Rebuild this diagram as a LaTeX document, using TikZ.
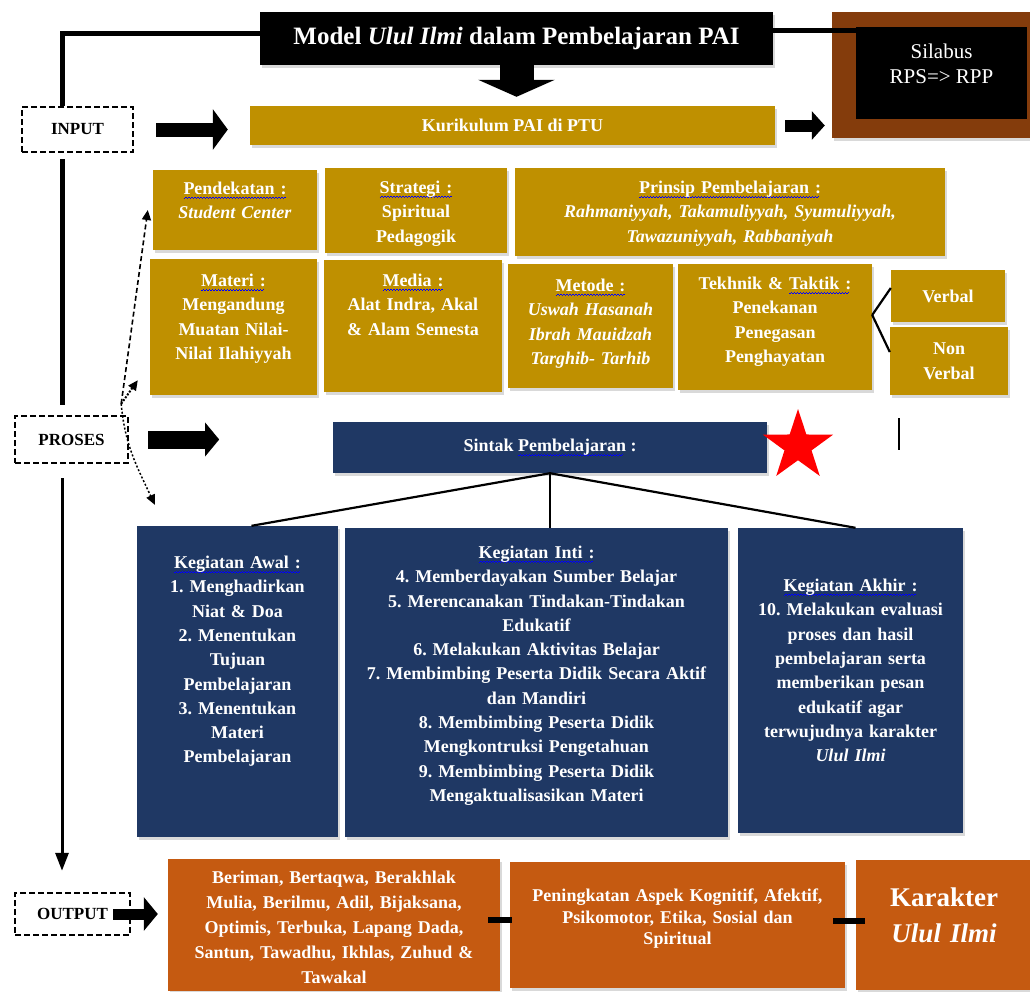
\documentclass[tikz,border=0pt]{standalone}
\usepackage{fontspec}
\setmainfont{Liberation Serif}
\usepackage{tikz}
\usetikzlibrary{positioning,arrows.meta,shapes.geometric,shadows}
\definecolor{cGold}{HTML}{BF9000}
\definecolor{cNavy}{HTML}{1F3864}
\definecolor{cOrng}{HTML}{C55A11}
\definecolor{cBrwn}{HTML}{843C0C}
\newsavebox{\sqbox}
\newcommand{\sqg}[1]{\sbox{\sqbox}{#1}\rlap{\raisebox{-4pt}{\textcolor{blue}{\hbox to \wd\sqbox{\leaders\hbox to 3pt{\rule{1.5pt}{0.7pt}\rule[0.8pt]{1.5pt}{0.7pt}}\hfill}}}}\usebox{\sqbox}}
\newcommand{\UI}{\textit{Ulul Ilmi}}
\frenchspacing

\begin{document}
\begin{tikzpicture}[x=1pt, y=-1pt,
  font=\fontsize{18}{24.5}\selectfont\bfseries,
  sh/.style={drop shadow={shadow xshift=2pt, shadow yshift=-3pt, opacity=0.3}},
  box/.style={inner sep=0pt, sh},
  gold/.style={box, fill=cGold},
  navy/.style={box, fill=cNavy},
  orng/.style={box, fill=cOrng},
  io/.style={draw, line width=2.4pt, dash pattern=on 6pt off 3pt, inner sep=0pt, font=\fontsize{17}{20}\selectfont\bfseries},
  txt/.style={text=white, align=center, inner sep=0pt},
  spine/.style={line width=5pt},
  fat/.style n args={3}{line width=#1, -{Triangle[length=#2, width=#3]}},
  dsh/.style={-{Triangle[length=10pt, width=9pt]}, line width=1.6pt},
  sep/.style={line width=6pt},
  lnk/.style={line width=2.2pt}
]
\useasboundingbox (0,0) rectangle (1030,991);

% input row
\node[box, fill=black, minimum width=513pt, minimum height=53pt, text=white, font=\fontsize{25}{30}\selectfont\bfseries] (title) at (516.5,38.5) {Model \UI{} dalam Pembelajaran PAI};
\node[box, fill=cBrwn, minimum width=200pt, minimum height=126pt] (rps) at (932,75) {};
\node[inner sep=0pt, fill=black, minimum width=171pt, minimum height=92pt] (sil) at (941.5,73) {};
\node[txt, font=\fontsize{21}{25}\selectfont] (silT) at ([yshift=9pt]sil.center) {Silabus\\RPS=> RPP};
\node[io, minimum width=111pt, minimum height=45pt] (inp) at (77.5,129.5) {INPUT};
\node[gold, minimum width=525pt, minimum height=39pt, text=white] (kur) at (512.5,125.5) {Kurikulum PAI di PTU};

% komponen pembelajaran
\node[gold, minimum width=164pt, minimum height=80pt] (pend) at (235,210) {};
\node[gold, minimum width=182pt, minimum height=85pt] (strat) at (416,210.5) {};
\node[gold, minimum width=430pt, minimum height=88pt] (prin) at (730,212) {};
\node[gold, minimum width=167pt, minimum height=136pt] (mat) at (233.5,327) {};
\node[gold, minimum width=178pt, minimum height=132pt] (med) at (413,326) {};
\node[gold, minimum width=165pt, minimum height=124pt] (met) at (590.5,326) {};
\node[gold, minimum width=194pt, minimum height=126pt] (tek) at (775,327) {};
\node[gold, minimum width=114pt, minimum height=52pt, text=white] (verb) at (948,296) {Verbal};
\node[gold, minimum width=118pt, minimum height=68pt, txt] (nverb) at (949,361) {Non\\Verbal};
\node[txt, text width=154pt, below=12pt of pend.north] (pendT) {\sqg{Pendekatan :}\\\textit{Student Center}};
\node[txt, text width=172pt, below=13pt of strat.north] (stratT) {\sqg{Strategi :}\\Spiritual\\Pedagogik};
\node[txt, text width=420pt, below=13pt of prin.north] (prinT) {\sqg{Prinsip Pembelajaran :}\\\textit{Rahmaniyyah, Takamuliyyah, Syumuliyyah,}\\\textit{Tawazuniyyah, Rabbaniyah}};
\node[txt, text width=157pt, below=15pt of mat.north] (matT) {\sqg{Materi :}\\Mengandung\\Muatan Nilai-\\Nilai Ilahiyyah};
\node[txt, text width=168pt, below=14pt of med.north] (medT) {\sqg{Media :}\\Alat Indra, Akal\\\& Alam Semesta};
\node[txt, text width=155pt, below=15pt of met.north] (metT) {\sqg{Metode :}\\\textit{Uswah Hasanah}\\\textit{Ibrah Mauidzah}\\\textit{Targhib- Tarhib}};
\node[txt, text width=184pt, below=13pt of tek.north] (tekT) {Tekhnik \& \sqg{Taktik :}\\Penekanan\\Penegasan\\Penghayatan};
\draw[lnk] ([yshift=12pt]tek.east) -- ([yshift=8pt]verb.west);
\draw[lnk] ([yshift=12pt]tek.east) -- ([yshift=9pt]nverb.west);

% proses
\node[io, minimum width=113pt, minimum height=47pt] (pros) at (71.5,439.5) {PROSES};
\node[navy, minimum width=434pt, minimum height=51pt, text=white] (sint) at (550,447.5) {Sintak \sqg{Pembelajaran} :};
\node[star, star points=5, star point ratio=2.6, fill=red, inner sep=0pt, minimum size=74pt] (star) at (798,446) {};
\draw[line width=1.3pt] (899,418) -- (899,450);
\node[navy, minimum width=201pt, minimum height=311pt] (awal) at (237.5,681.5) {};
\node[navy, minimum width=383pt, minimum height=309pt] (inti) at (536.5,682.5) {};
\node[navy, minimum width=225pt, minimum height=305pt] (akhir) at (850.5,680.5) {};
\node[txt, text width=195pt, font=\fontsize{18}{24.3}\selectfont\bfseries, below=30pt of awal.north] (awalT)
  {\sqg{Kegiatan Awal :}\\1. Menghadirkan\\Niat \& Doa\\2. Menentukan\\Tujuan\\Pembelajaran\\3. Menentukan\\Materi\\Pembelajaran};
\node[txt, text width=378pt, font=\fontsize{18}{24.3}\selectfont\bfseries, below=18pt of inti.north] (intiT)
  {\sqg{Kegiatan Inti :}\\4. Memberdayakan Sumber Belajar\\5. Merencanakan Tindakan-Tindakan\\Edukatif\\6. Melakukan Aktivitas Belajar\\7. Membimbing Peserta Didik Secara Aktif\\dan Mandiri\\8. Membimbing Peserta Didik\\Mengkontruksi Pengetahuan\\9. Membimbing Peserta Didik\\Mengaktualisasikan Materi};
\node[txt, text width=219pt, font=\fontsize{18}{24.3}\selectfont\bfseries, below=51pt of akhir.north] (akhirT)
  {\sqg{Kegiatan Akhir :}\\10. Melakukan evaluasi\\proses dan hasil\\pembelajaran serta\\memberikan pesan\\edukatif agar\\terwujudnya karakter\\\UI};
\draw[lnk] (sint.south) -- ([xshift=14pt]awal.north);
\draw[lnk] (sint.south) -- (sint.south |- inti.north);
\draw[lnk] (sint.south) -- ([xshift=5pt]akhir.north);

% output
\node[io, minimum width=115pt, minimum height=42pt] (out) at (72.5,914) {OUTPUT};
\node[orng, minimum width=332pt, minimum height=132pt] (ob1) at (334,925) {};
\node[orng, minimum width=335pt, minimum height=126pt] (ob2) at (677.5,925) {};
\node[orng, minimum width=176pt, minimum height=130pt] (ob3) at (944,925) {};
\node[txt, text width=322pt, font=\fontsize{18}{25}\selectfont\bfseries, below=12pt of ob1.north] (ob1T)
  {Beriman, Bertaqwa, Berakhlak\\Mulia, Berilmu, Adil, Bijaksana,\\Optimis, Terbuka, Lapang Dada,\\Santun, Tawadhu, Ikhlas, Zuhud \&\\Tawakal};
\node[txt, text width=325pt, font=\fontsize{18}{21.5}\selectfont\bfseries, below=27pt of ob2.north] (ob2T)
  {Peningkatan Aspek Kognitif, Afektif,\\Psikomotor, Etika, Sosial dan\\Spiritual};
\node[txt, text width=170pt, font=\fontsize{27}{36}\selectfont\bfseries, below=28pt of ob3.north] (ob3T) {Karakter\\\UI};
\draw[sep, shorten <=-12pt, shorten >=-2pt] ([yshift=5pt]ob1.east) -- ([yshift=5pt]ob2.west);
\draw[sep, shorten <=-12pt, shorten >=-9pt] ([yshift=4pt]ob2.east) -- ([yshift=4pt]ob3.west);

% connectors
\coordinate (spineX) at (62,0);
\draw[spine] ([yshift=5pt]title.west) -| (inp.north -| spineX);
\draw[line width=5pt] ([yshift=8pt]title.east) -- ([yshift=8pt]title.east -| sil.west);
\draw[spine, shorten <=6pt, shorten >=10pt] (inp.south -| spineX) -- (pros.north -| spineX);
\draw[line width=3pt, -{Triangle[length=18pt, width=13pt]}, shorten <=14pt, shorten >=21pt] (pros.south -| spineX) -- (out.north -| spineX);
\draw[fat={34pt}{17pt}{76pt}, shorten >=9pt] (title.south) -- (title.south |- kur.north);
\draw[fat={14pt}{15pt}{40pt}, shorten <=22pt, shorten >=22pt] (inp.east) -- (inp.east -| kur.west);
\draw[fat={12pt}{13pt}{28pt}, shorten <=10pt, shorten >=7pt] (kur.east) -- (kur.east -| rps.west);
\coordinate (prosTip) at ([xshift=90pt]pros.east);
\draw[fat={18pt}{14pt}{33pt}, shorten <=19pt] (pros.east) -- (prosTip);
\draw[fat={11pt}{14pt}{33pt}, shorten >=10pt] ([xshift=-18pt]out.east) -- (out.east -| ob1.west);
\coordinate (fan) at ([xshift=-8pt, yshift=11pt]pros.north east);
\draw[dsh, dash pattern=on 5pt off 3pt] (fan) -- ([xshift=-5pt]pend.west);
\draw[dsh, line width=2pt, dash pattern=on 2pt off 1.5pt] (fan) -- ([xshift=-12pt, yshift=15pt]mat.south west);
\draw[dsh, line width=1.5pt, dash pattern=on 2pt off 2pt] (fan) to[out=-85, in=115] ([xshift=18pt, yshift=21pt]awal.north west);
\end{tikzpicture}
\end{document}
